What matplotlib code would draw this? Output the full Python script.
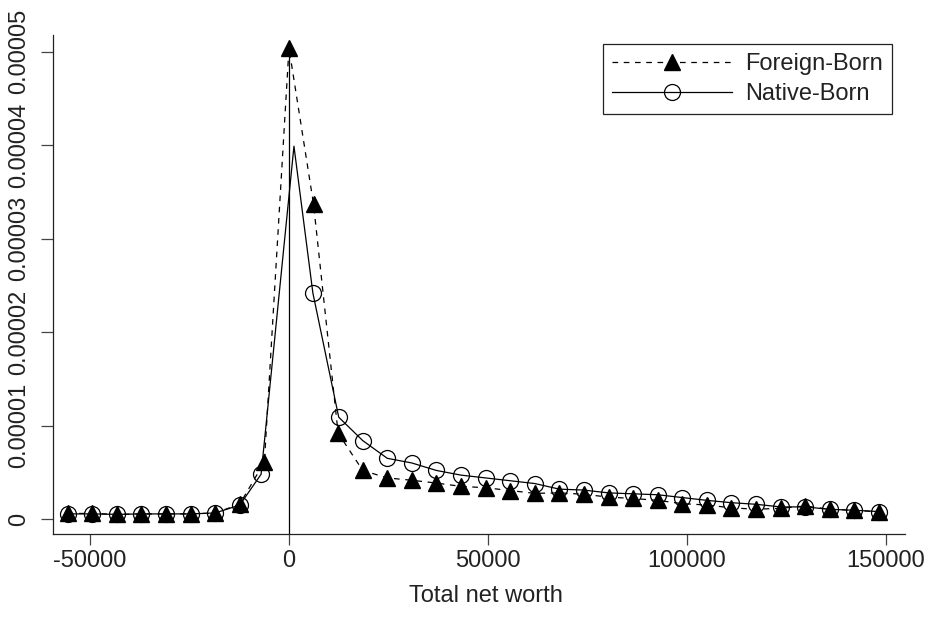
import matplotlib
matplotlib.use('Agg')
import matplotlib.pyplot as plt
from matplotlib.lines import Line2D
import numpy as np

# evaluation grid for the density (total net worth)
net_worth = [-55600, -49423, -43246, -37069, -30892, -24715, -18538, -12361, -6184, 0,
             6170, 12347, 18524, 24701, 30878, 37055, 43232, 49409, 55586, 61763,
             67940, 74117, 80294, 86471, 92648, 98825, 105002, 111179, 117356, 123533,
             129710, 135887, 142064, 148241]

# density values, in units of 1e-5
foreign_born = [0.06, 0.06, 0.05, 0.055, 0.055, 0.055, 0.065, 0.16, 0.61, 5.04,
                3.37, 0.92, 0.52, 0.44, 0.415, 0.385, 0.35, 0.335, 0.305, 0.275,
                0.28, 0.265, 0.235, 0.22, 0.20, 0.165, 0.15, 0.12, 0.105, 0.115,
                0.14, 0.104, 0.094, 0.077]

# native-born line peaks between grid points (no marker drawn there)
native_worth = [-55600, -49423, -43246, -37069, -30892, -24715, -18538, -12361, -7000, 1250,
                6000, 12500, 18524, 24701, 30878, 37055, 43232, 49409, 55586, 61763,
                67940, 74117, 80294, 86471, 92648, 98825, 105002, 111179, 117356, 123533,
                129710, 135887, 142064, 148241]
native_born = [0.055, 0.055, 0.05, 0.055, 0.055, 0.055, 0.065, 0.15, 0.48, 3.99,
               2.42, 1.09, 0.84, 0.65, 0.60, 0.52, 0.47, 0.44, 0.41, 0.38,
               0.32, 0.31, 0.28, 0.27, 0.26, 0.23, 0.20, 0.175, 0.158, 0.13,
               0.13, 0.104, 0.094, 0.08]
native_no_marker = 9

x_ticks = [-50000, 0, 50000, 100000, 150000]
x_tick_labels = ['-50000', '0', '50000', '100000', '150000']
y_ticks = [0, 0.00001, 0.00002, 0.00003, 0.00004, 0.00005]
y_tick_labels = ['0', '0.00001', '0.00002', '0.00003', '0.00004', '0.00005']

plt.rcParams['font.family'] = ['Liberation Sans', 'DejaVu Sans']

W, H = 931, 619
fig = plt.figure(figsize=(W / 100, H / 100), dpi=100)
ax = fig.add_axes([53 / W, 1 - 534 / H, (905 - 53) / W, (534 - 35) / H])

lw = 0.9
dash = (4.5, 4.5)
y_bottom = -0.0000016
ax.set_xlim(-59300, 154800)
ax.set_ylim(y_bottom, 0.0000518)

# reference line at zero, runs up to the foreign-born peak
ax.vlines(0, y_bottom, max(foreign_born) * 1e-5, color='black', lw=lw, zorder=1)

ax.plot(net_worth, np.array(foreign_born) * 1e-5, color='black', lw=lw, dashes=dash,
        marker='^', ms=12, mfc='black', mec='black', zorder=3)

marks = [i for i in range(len(native_worth)) if i != native_no_marker]
ax.plot(native_worth, np.array(native_born) * 1e-5, color='black', lw=lw,
        marker='o', ms=11.5, mfc='none', mec='black', mew=lw, markevery=marks, zorder=2)

ax.set_xticks(x_ticks)
ax.set_xticklabels(x_tick_labels)
ax.set_yticks(y_ticks)
ax.set_yticklabels(y_tick_labels, rotation=90, va='center')

for s in ['top', 'right']:
    ax.spines[s].set_visible(False)
for s in ['left', 'bottom']:
    ax.spines[s].set_linewidth(lw)
    ax.spines[s].set_color('#222222')

ax.tick_params(axis='x', direction='out', length=8, width=lw, color='#444444',
               labelsize=17, pad=3.2, labelcolor='#222222')
ax.tick_params(axis='y', direction='out', length=8.6, width=lw, color='#444444',
               labelsize=17, pad=7.9, labelcolor='#222222')

ax.set_xlabel('Total net worth', fontsize=17, labelpad=9.7, color='#222222')
ax.xaxis.label.set_x(0.508)

handles = [
    Line2D([], [], color='black', lw=lw, dashes=dash, marker='^', ms=12,
           mfc='black', mec='black', label='Foreign-Born'),
    Line2D([], [], color='black', lw=lw, marker='o', ms=11.5, mfc='none',
           mec='black', mew=lw, label='Native-Born'),
]
leg = ax.legend(handles=handles, loc='upper right', bbox_to_anchor=(0.985, 0.982),
                fontsize=17, frameon=True, fancybox=False, edgecolor='#222222',
                framealpha=1, borderaxespad=0, handlelength=5.1, handletextpad=0.55,
                borderpad=0.39, labelspacing=0.33, numpoints=1)
leg.get_frame().set_linewidth(lw)
for t in leg.get_texts():
    t.set_color('#222222')

fig.savefig('out.png', dpi=100)
